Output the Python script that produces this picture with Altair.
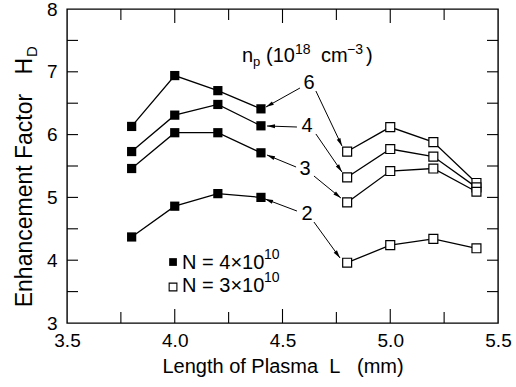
import altair as alt
import pandas as pd
import numpy as np

FONT = "Liberation Sans"
W, H = 431, 314

# ---- data ----
x_filled = [3.8, 4.0, 4.2, 4.4]
x_open = [4.8, 5.0, 5.2, 5.4]
series_names = ["6", "4", "3", "2"]
hd_filled = {
    "6": [6.13, 6.94, 6.70, 6.41],
    "4": [5.73, 6.31, 6.48, 6.14],
    "3": [5.46, 6.03, 6.03, 5.71],
    "2": [4.37, 4.86, 5.06, 5.00],
}
hd_open = {
    "6": [5.73, 6.12, 5.88, 5.23],
    "4": [5.32, 5.77, 5.65, 5.16],
    "3": [4.92, 5.42, 5.46, 5.09],
    "2": [3.96, 4.24, 4.34, 4.19],
}
x_label_values = [3.5, 4.0, 4.5, 5.0, 5.5]
y_label_values = [3, 4, 5, 6, 7, 8]
x_major_ticks = [4.0, 4.5, 5.0]
x_minor_ticks = [3.75, 4.25, 4.75, 5.25]
y_ticks = [3.5, 4.0, 4.5, 5.0, 5.5, 6.0, 6.5, 7.0, 7.5]

# annotation labels (n_p values) and their arrows, in data units
label_text = ["6", "4", "3", "2"]
label_x = [4.623, 4.614, 4.605, 4.614]
label_y = [6.822, 6.137, 5.452, 4.736]
arrow_x1 = [4.581, 4.655, 4.567, 4.655, 4.563, 4.646, 4.567, 4.646]
arrow_y1 = [6.742, 6.694, 6.121, 6.010, 5.484, 5.341, 4.783, 4.608]
arrow_x2 = [4.423, 4.776, 4.428, 4.776, 4.428, 4.771, 4.419, 4.767]
arrow_y2 = [6.439, 5.818, 6.137, 5.404, 5.675, 4.990, 4.975, 4.035]

# legend and header anchor positions (data units)
legend_sq_x = 3.992
legend_sq_y = [3.971, 3.573]
legend_txt_x = 4.034
legend_txt_y = [3.860, 3.494]
legend_main = ["N = 4\u00d710", "N = 3\u00d710"]
header_x = 4.312
header_y = 7.156

# ---- build tables ----
rows = []
for s in series_names:
    for x, v in zip(x_filled, hd_filled[s]):
        rows.append({"L": x, "H": v, "key": "f" + s, "kind": "filled"})
    for x, v in zip(x_open, hd_open[s]):
        rows.append({"L": x, "H": v, "key": "o" + s, "kind": "open"})
df = pd.DataFrame(rows)

xscale = alt.Scale(domain=[3.5, 5.5], nice=False, zero=False)
yscale = alt.Scale(domain=[3, 8], nice=False, zero=False)

xaxis = alt.Axis(values=x_label_values, format=".1f", ticks=False, domain=False,
                 grid=False, labelFontSize=19, labelColor="black", labelPadding=8,
                 labelFlush=False, labelOverlap=False, labelFont=FONT,
                 title="Length of Plasma\u00a0\u00a0L\u00a0\u00a0\u00a0(mm)",
                 titleFont=FONT, titleFontSize=20, titleFontWeight="normal",
                 titleColor="black", titlePadding=6)
yaxis = alt.Axis(values=y_label_values, format="d", ticks=False, domain=False,
                 grid=False, labelFontSize=19, labelColor="black", labelPadding=10,
                 labelFlush=False, labelOverlap=False, labelFont=FONT, title=None)

def X(field="L"):
    return alt.X(f"{field}:Q", scale=xscale, axis=xaxis)

def Y(field="H"):
    return alt.Y(f"{field}:Q", scale=yscale, axis=yaxis)

lines = alt.Chart(df).mark_line(color="black", strokeWidth=1.3).encode(
    x=X(), y=Y(), detail="key:N",
)
pts_filled = alt.Chart(df[df.kind == "filled"]).mark_point(
    shape="square", filled=True, color="black", size=85, opacity=1
).encode(x=X(), y=Y())
pts_open = alt.Chart(df[df.kind == "open"]).mark_point(
    shape="square", filled=True, fill="white", stroke="black", strokeWidth=1.2,
    size=80, opacity=1
).encode(x=X(), y=Y())

# inward tick marks on all four sides
xmaj = pd.DataFrame({"L": x_major_ticks})
xmin = pd.DataFrame({"L": x_minor_ticks})
ytk = pd.DataFrame({"H": y_ticks})
tick_layers = []
for d, ln in [(xmaj, 14), (xmin, 11)]:
    tick_layers.append(alt.Chart(d).mark_rule(color="black", strokeWidth=1.1).encode(
        x=X(), y=alt.value(0), y2=alt.value(ln)))
    tick_layers.append(alt.Chart(d).mark_rule(color="black", strokeWidth=1.1).encode(
        x=X(), y=alt.value(H), y2=alt.value(H - ln)))
tick_layers.append(alt.Chart(ytk).mark_rule(color="black", strokeWidth=1.1).encode(
    y=Y(), x=alt.value(0), x2=alt.value(11)))
tick_layers.append(alt.Chart(ytk).mark_rule(color="black", strokeWidth=1.1).encode(
    y=Y(), x=alt.value(W), x2=alt.value(W - 11)))

# arrows
ad = pd.DataFrame({"L": arrow_x1, "H": arrow_y1, "L2": arrow_x2, "H2": arrow_y2})
pxu = W / 2.0
pyu = H / 5.0
dxp = (ad.L2 - ad.L) * pxu
dyp = -(ad.H2 - ad.H) * pyu
ad["ang"] = np.mod(np.degrees(np.arctan2(dxp, -dyp)), 360)
arrow_lines = alt.Chart(ad).mark_rule(color="black", strokeWidth=1).encode(
    x=X(), y=Y(), x2="L2:Q", y2="H2:Q")
arrow_heads = alt.Chart(ad).mark_point(
    shape="M0,0L-0.5,2L0.5,2Z", filled=True, color="black", size=64, opacity=1
).encode(x=X("L2"), y=Y("H2"), angle=alt.Angle("ang:Q", scale=None))

labels = alt.Chart(pd.DataFrame({"L": label_x, "H": label_y, "t": label_text})).mark_text(
    font=FONT, fontSize=20, color="black", align="center", baseline="middle"
).encode(x=X(), y=Y(), text="t:N")

# header n_p (10^18 cm^-3)
hdr = pd.DataFrame({"L": [header_x], "H": [header_y]})
header_pieces = [("n", 0, 0, 20), ("p", 11, 4, 13), ("(10", 24, 0, 20),
                 ("18", 53, -8, 14), ("cm", 79, 0, 20), ("\u22123", 105, -8, 14),
                 (")", 124, 0, 20)]
header_layers = []
for t, dx, dy, fs in header_pieces:
    header_layers.append(alt.Chart(hdr).mark_text(
        font=FONT, fontSize=fs, color="black", align="left", baseline="alphabetic",
        dx=dx, dy=dy, text=t).encode(x=X(), y=Y()))

# legend
leg_sq = pd.DataFrame({"L": [legend_sq_x] * 2, "H": legend_sq_y})
leg_f = alt.Chart(leg_sq.iloc[[0]]).mark_point(
    shape="square", filled=True, color="black", size=60, opacity=1).encode(x=X(), y=Y())
leg_o = alt.Chart(leg_sq.iloc[[1]]).mark_point(
    shape="square", filled=True, fill="white", stroke="black", strokeWidth=1.1,
    size=60, opacity=1).encode(x=X(), y=Y())
leg_layers = [leg_f, leg_o]
for ty, main in zip(legend_txt_y, legend_main):
    d = pd.DataFrame({"L": [legend_txt_x], "H": [ty]})
    leg_layers.append(alt.Chart(d).mark_text(
        font=FONT, fontSize=20, color="black", align="left", baseline="alphabetic",
        text=main).encode(x=X(), y=Y()))
    leg_layers.append(alt.Chart(d).mark_text(
        font=FONT, fontSize=14, color="black", align="left", baseline="alphabetic",
        dx=82, dy=-10, text="10").encode(x=X(), y=Y()))

# rotated y title with subscript
one = pd.DataFrame({"a": [0]})
ytitle = alt.Chart(one).mark_text(
    font=FONT, fontSize=23, color="black", angle=270, align="right", baseline="middle",
    text="Enhancement Factor\u00a0\u00a0\u00a0H").encode(x=alt.value(-42), y=alt.value(49))
ysub = alt.Chart(one).mark_text(
    font=FONT, fontSize=15, color="black", angle=270, align="left", baseline="middle",
    text="D").encode(x=alt.value(-35), y=alt.value(48))

chart = alt.layer(
    lines, *tick_layers, arrow_lines, arrow_heads, pts_filled, pts_open, labels,
    *header_layers, *leg_layers, ytitle, ysub
).properties(
    width=W, height=H,
    autosize=alt.AutoSizeParams(type="none"),
    padding={"left": 67, "top": 9, "right": 18, "bottom": 64},
    background="white",
).configure(
    font=FONT
).configure_view(
    stroke="black", strokeWidth=1.4
)

chart.save("out.html", embed_options={"renderer": "svg", "actions": False})
